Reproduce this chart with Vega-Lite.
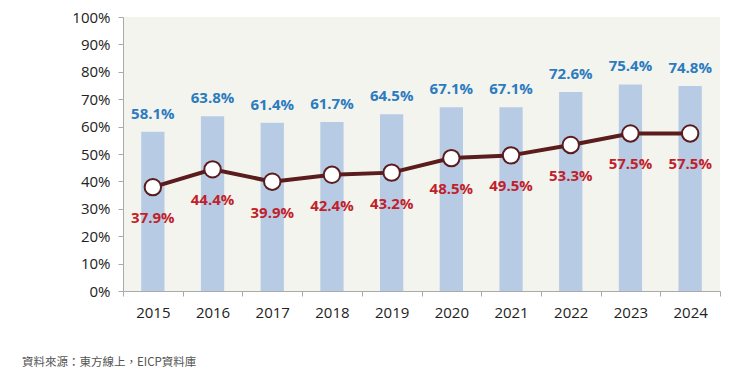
{
  "$schema": "https://vega.github.io/schema/vega-lite/v6.json",
  "width": 597,
  "height": 274,
  "autosize": {"type": "none"},
  "padding": {"left": 123, "top": 17, "right": 30, "bottom": 84},
  "background": "white",
  "view": {"fill": "#f4f4ef", "stroke": null},
  "config": {"font": "Open Sans"},
  "title": {
    "text": "資料來源：東方線上，EICP資料庫",
    "orient": "bottom",
    "anchor": "start",
    "frame": "group",
    "dx": -101,
    "offset": 37,
    "fontSize": 11.5,
    "fontWeight": "normal",
    "color": "#555555",
    "font": "Noto Sans CJK TC"
  },
  "data": {
    "values": [
      {"year": "2015", "bar": 0.581, "line": 0.379},
      {"year": "2016", "bar": 0.638, "line": 0.444},
      {"year": "2017", "bar": 0.614, "line": 0.399},
      {"year": "2018", "bar": 0.617, "line": 0.424},
      {"year": "2019", "bar": 0.645, "line": 0.432},
      {"year": "2020", "bar": 0.671, "line": 0.485},
      {"year": "2021", "bar": 0.671, "line": 0.495},
      {"year": "2022", "bar": 0.726, "line": 0.533},
      {"year": "2023", "bar": 0.754, "line": 0.575},
      {"year": "2024", "bar": 0.748, "line": 0.575}
    ]
  },
  "encoding": {
    "x": {
      "field": "year",
      "type": "ordinal",
      "scale": {"paddingInner": 0, "paddingOuter": 0},
      "axis": {
        "title": null,
        "labelAngle": 0,
        "tickBand": "extent",
        "domainColor": "#aaaaaa",
        "tickColor": "#aaaaaa",
        "tickSize": 5,
        "labelFontSize": 15,
        "labelColor": "#222222",
        "labelPadding": 9
      }
    },
    "y": {
      "field": "bar",
      "type": "quantitative",
      "scale": {"domain": [0, 1], "nice": false},
      "axis": {
        "title": null,
        "format": ".0%",
        "tickCount": 10,
        "labelOverlap": false,
        "grid": false,
        "domainColor": "#aaaaaa",
        "tickColor": "#aaaaaa",
        "tickSize": 5,
        "labelFontSize": 15,
        "labelColor": "#222222",
        "labelPadding": 8
      }
    }
  },
  "layer": [
    {
      "mark": {"type": "bar", "color": "#b7cbe5", "width": {"band": 0.39}}
    },
    {
      "mark": {"type": "text", "baseline": "bottom", "dy": -10, "fontSize": 15, "fontWeight": "bold", "color": "#2b7bbf"},
      "encoding": {
        "text": {"field": "bar", "type": "quantitative", "format": ".1%"}
      }
    },
    {
      "mark": {"type": "line", "color": "#5a1c1c", "strokeWidth": 4},
      "encoding": {"y": {"field": "line", "type": "quantitative"}}
    },
    {
      "mark": {"type": "point", "filled": true, "fill": "white", "stroke": "#5a1c1c", "strokeWidth": 2, "size": 270, "opacity": 1},
      "encoding": {"y": {"field": "line", "type": "quantitative"}}
    },
    {
      "mark": {"type": "text", "baseline": "middle", "dy": 31, "fontSize": 15, "fontWeight": "bold", "color": "#c01f2b"},
      "encoding": {
        "y": {"field": "line", "type": "quantitative"},
        "text": {"field": "line", "type": "quantitative", "format": ".1%"}
      }
    }
  ]
}
